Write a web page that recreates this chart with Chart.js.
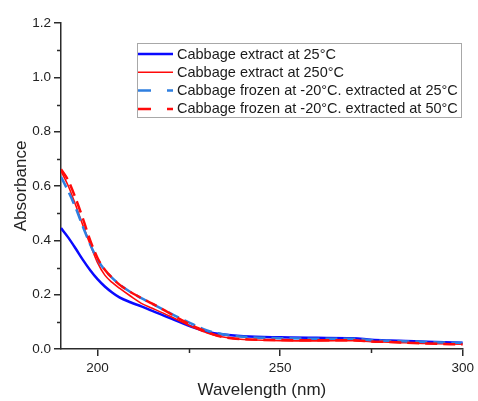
<!DOCTYPE html>
<html>
<head>
<meta charset="utf-8">
<script src="https://cdn.jsdelivr.net/npm/chart.js@4.4.1/dist/chart.umd.min.js"></script>
<style>
  body { margin: 0; background: #fff; }
  #wrap { width: 478px; height: 401px; position: relative; }
</style>
</head>
<body>
<div id="wrap"><canvas id="SpectraChart"></canvas></div>
<script>
// golflengte (nm) en absorbantie per meting
const wavelengths = [190, 192, 194, 196, 198, 200, 202, 204, 206, 209, 212, 215, 218, 221, 224, 227, 230, 234, 240, 250, 260, 270, 275, 280, 290, 300];
const extract25 = [0.445, 0.41, 0.37, 0.328, 0.29, 0.257, 0.23, 0.208, 0.19, 0.172, 0.157, 0.14, 0.124, 0.107, 0.091, 0.076, 0.064, 0.054, 0.047, 0.043, 0.041, 0.04, 0.034, 0.031, 0.027, 0.023];
const extract250 = [0.655, 0.6, 0.53, 0.455, 0.385, 0.318, 0.272, 0.245, 0.224, 0.195, 0.168, 0.15, 0.132, 0.113, 0.094, 0.075, 0.059, 0.045, 0.035, 0.031, 0.03, 0.031, 0.027, 0.025, 0.02, 0.018];
const frozen25 = [0.634, 0.58, 0.52, 0.45, 0.385, 0.33, 0.29, 0.262, 0.238, 0.21, 0.187, 0.166, 0.145, 0.124, 0.104, 0.085, 0.068, 0.055, 0.045, 0.04, 0.038, 0.038, 0.032, 0.03, 0.026, 0.022];
const frozen50 = [0.662, 0.62, 0.555, 0.48, 0.4, 0.335, 0.292, 0.262, 0.237, 0.21, 0.188, 0.167, 0.145, 0.122, 0.1, 0.08, 0.062, 0.045, 0.036, 0.033, 0.032, 0.032, 0.028, 0.026, 0.02, 0.017];
const seriesLabels = [
  'Cabbage extract at 25°C',
  'Cabbage extract at 250°C',
  'Cabbage frozen at -20°C. extracted at 25°C',
  'Cabbage frozen at -20°C. extracted at 50°C'
];
const xTicks = [200, 250, 300];
const xMinor = [225, 275];
const yMinor = [0.1, 0.3, 0.5, 0.7, 0.9, 1.1];

const FONT = "Arial, 'Liberation Sans', sans-serif";
const AXIS = '#2b2b2b';

function points(values) {
  return wavelengths.map((w, i) => ({ x: w, y: values[i] }));
}

// kleine tussenstreepjes + legenda met rand
const extras = {
  id: 'extras',
  afterDraw(chart) {
    const ctx = chart.ctx;
    const xs = chart.scales.x, ys = chart.scales.y;
    ctx.save();
    ctx.strokeStyle = AXIS;
    ctx.lineWidth = 1.5;
    ctx.beginPath();
    yMinor.forEach(v => {
      const p = Math.round(ys.getPixelForValue(v)) + 0.5;
      ctx.moveTo(xs.left - 4, p); ctx.lineTo(xs.left, p);
    });
    xMinor.forEach(v => {
      const p = Math.round(xs.getPixelForValue(v)) + 0.5;
      ctx.moveTo(p, ys.bottom); ctx.lineTo(p, ys.bottom + 4);
    });
    ctx.stroke();

    // legenda
    const bx = 137.5, by = 43.5, bw = 324, bh = 74;
    ctx.fillStyle = '#fff';
    ctx.fillRect(bx, by, bw, bh);
    ctx.strokeStyle = '#a8a8a8';
    ctx.lineWidth = 1;
    ctx.strokeRect(bx, by, bw, bh);
    ctx.font = '14.5px ' + FONT;
    ctx.textBaseline = 'middle';
    chart.data.datasets.forEach((ds, i) => {
      const yy = 54 + i * 18.3;
      ctx.strokeStyle = ds.borderColor;
      ctx.lineWidth = ds.borderWidth;
      ctx.setLineDash(ds.borderDash && ds.borderDash.length ? [13, 16] : []);
      ctx.beginPath();
      ctx.moveTo(138, yy); ctx.lineTo(173, yy);
      ctx.stroke();
      ctx.setLineDash([]);
      ctx.fillStyle = '#1a1a1a';
      ctx.fillText(ds.label, 177, yy + 0.5);
    });
    ctx.restore();
  }
};

const spectra = document.getElementById('SpectraChart');
new Chart(spectra, {
  type: 'line',
  data: {
    datasets: [{
      label: seriesLabels[0],
      data: points(extract25),
      borderColor: '#0a0aff',
      borderWidth: 2.5,
      order: 4
    }, {
      label: seriesLabels[1],
      data: points(extract250),
      borderColor: '#ff0a0a',
      borderWidth: 1.6,
      order: 3
    }, {
      label: seriesLabels[2],
      data: points(frozen25),
      borderColor: '#2f7fe0',
      borderWidth: 2.5,
      borderDash: [12, 6],
      order: 2
    }, {
      label: seriesLabels[3],
      data: points(frozen50),
      borderColor: '#ff0a0a',
      borderWidth: 2.5,
      borderDash: [12, 6],
      order: 1
    }]
  },
  options: {
    responsive: true,
    maintainAspectRatio: false,
    animation: false,
    cubicInterpolationMode: 'monotone',
    elements: { point: { radius: 0 } },
    layout: { padding: { top: 23, right: 12, left: 0, bottom: 0 } },
    plugins: { legend: { display: false }, tooltip: { enabled: false } },
    scales: {
      x: {
        type: 'linear',
        min: 190,
        max: 300,
        afterBuildTicks: s => { s.ticks = xTicks.map(v => ({ value: v })); },
        afterFit: s => { s.height = 52; },
        grid: { drawOnChartArea: false, drawTicks: true, tickLength: 7, color: AXIS, lineWidth: 1.5 },
        border: { display: true, color: AXIS, width: 1.5 },
        ticks: { color: '#222', font: { family: FONT, size: 13.5 }, padding: 4, maxRotation: 0 },
        title: { display: true, text: 'Wavelength (nm)', color: '#222', font: { family: FONT, size: 17 }, padding: { top: 6, bottom: 0 } }
      },
      y: {
        min: 0,
        max: 1.2,
        ticks: { stepSize: 0.2, color: '#222', font: { family: FONT, size: 13.5 }, padding: 3, callback: v => v.toFixed(1) },
        afterFit: s => { s.width = 61; },
        grid: { drawOnChartArea: false, drawTicks: true, tickLength: 7, color: AXIS, lineWidth: 1.5 },
        border: { display: true, color: AXIS, width: 1.5 },
        title: { display: true, text: 'Absorbance', color: '#222', font: { family: FONT, size: 17 }, padding: { top: 11, bottom: 0 } }
      }
    }
  },
  plugins: [extras]
});
</script>
</body>
</html>
